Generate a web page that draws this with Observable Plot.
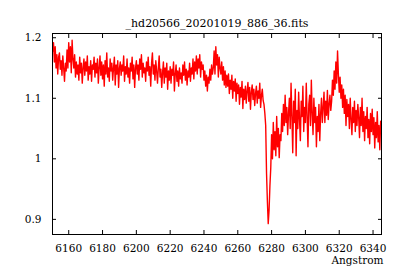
<!DOCTYPE html>
<html>
<head>
<meta charset="utf-8">
<script src="https://cdn.jsdelivr.net/npm/d3@7"></script>
<script src="https://cdn.jsdelivr.net/npm/@observablehq/plot@0.6"></script>
<style>
  html, body { margin: 0; padding: 0; background: #fff; }
  svg text { font-family: "DejaVu Serif", serif !important; }
</style>
</head>
<body>
<div id="chart"></div>
<script>
const title = "_hd20566_20201019_886_36.fits";
const xLabel = "Angstrom";
const wavelengthStart = 6150.5;
const wavelengthStep = 0.5;
const flux = [
  1.178,1.192,1.160,1.185,1.150,1.172,1.140,1.168,1.175,1.148,
  1.162,1.138,1.170,1.150,1.128,1.158,1.145,1.180,1.150,1.192,
  1.160,1.185,1.142,1.196,1.165,1.150,1.172,1.135,1.160,1.140,
  1.155,1.130,1.168,1.142,1.158,1.125,1.150,1.165,1.138,1.160,
  1.145,1.170,1.130,1.152,1.140,1.162,1.128,1.155,1.148,1.168,
  1.135,1.158,1.142,1.165,1.125,1.150,1.170,1.138,1.160,1.132,
  1.155,1.120,1.162,1.140,1.175,1.135,1.150,1.128,1.165,1.145,
  1.158,1.130,1.150,1.168,1.122,1.155,1.140,1.162,1.118,1.150,
  1.160,1.138,1.155,1.145,1.170,1.128,1.152,1.140,1.165,1.135,
  1.150,1.125,1.158,1.145,1.168,1.132,1.155,1.118,1.150,1.162,
  1.140,1.155,1.130,1.165,1.148,1.172,1.135,1.158,1.142,1.150,
  1.128,1.160,1.145,1.168,1.138,1.152,1.120,1.158,1.175,1.140,
  1.155,1.130,1.162,1.145,1.125,1.150,1.170,1.135,1.148,1.118,
  1.142,1.160,1.125,1.150,1.135,1.158,1.115,1.145,1.130,1.152,
  1.125,1.148,1.138,1.160,1.112,1.140,1.155,1.128,1.145,1.120,
  1.150,1.132,1.142,1.125,1.155,1.138,1.160,1.130,1.148,1.122,
  1.145,1.135,1.158,1.128,1.150,1.140,1.165,1.132,1.160,1.145,
  1.170,1.140,1.165,1.150,1.172,1.135,1.160,1.148,1.155,1.130,
  1.145,1.120,1.138,1.112,1.135,1.125,1.148,1.130,1.155,1.140,
  1.150,1.178,1.140,1.185,1.155,1.172,1.135,1.168,1.150,1.140,
  1.160,1.130,1.152,1.122,1.145,1.118,1.138,1.120,1.140,1.108,
  1.130,1.115,1.138,1.100,1.128,1.112,1.132,1.095,1.125,1.108,
  1.122,1.090,1.118,1.102,1.128,1.083,1.115,1.098,1.120,1.092,
  1.112,1.126,1.095,1.118,1.082,1.110,1.122,1.098,1.115,1.088,
  1.108,1.120,1.092,1.112,1.100,1.125,1.085,1.105,1.115,1.096,
  1.090,1.075,1.055,0.976,0.930,0.893,0.915,0.955,0.985,1.040,
  1.000,1.060,1.015,1.045,1.005,1.070,1.020,1.050,1.002,1.040,
  1.030,1.075,1.045,1.090,1.055,1.105,1.060,1.085,1.040,1.075,
  1.100,1.050,1.125,1.070,1.010,1.095,1.060,1.115,1.005,1.080,
  1.050,1.110,1.065,1.030,1.095,1.070,1.120,1.045,1.085,1.060,
  1.125,1.070,1.020,1.090,1.105,1.055,1.130,1.075,1.040,1.100,
  1.060,1.085,1.020,1.070,1.045,1.090,1.030,1.075,1.100,1.060,
  1.085,1.110,1.060,1.095,1.072,1.113,1.065,1.090,1.105,1.080,
  1.095,1.130,1.105,1.145,1.115,1.160,1.125,1.178,1.140,1.110,
  1.135,1.100,1.122,1.085,1.115,1.075,1.105,1.055,1.098,1.070,
  1.090,1.050,1.100,1.065,1.040,1.085,1.060,1.095,1.045,1.080,
  1.055,1.090,1.068,1.035,1.085,1.055,1.100,1.045,1.078,1.030,
  1.070,1.050,1.085,1.035,1.065,1.025,1.075,1.045,1.082,1.040,
  1.068,1.018,1.060,1.035,1.078,1.028,1.055,1.015,1.062
];
const xTicks = [6160, 6180, 6200, 6220, 6240, 6260, 6280, 6300, 6320, 6340];
const yTicks = [0.9, 1, 1.1, 1.2];

const data = flux.map((f, i) => ({lambda: wavelengthStart + i * wavelengthStep, flux: f}));

const fmt = d3.format("~g");
const font = "DejaVu Serif, serif";

const chart = Plot.plot({
  width: 400,
  height: 280,
  marginLeft: 52,
  marginRight: 19,
  marginTop: 33,
  marginBottom: 46,
  style: {fontFamily: font, fontSize: "10.5px", background: "#fff", color: "#000"},
  x: {domain: [6150.4, 6345], label: null},
  y: {domain: [0.875, 1.207], label: null},
  marks: [
    Plot.line(data, {x: "lambda", y: "flux", stroke: "#ff0000", strokeWidth: 1.4}),
    Plot.frame({stroke: "#000", strokeWidth: 1}),
    Plot.axisX(xTicks, {anchor: "bottom", tickSize: 4, dy: -4, text: null, stroke: "#000"}),
    Plot.axisX(xTicks, {anchor: "top", tickSize: 4, dy: 4, text: null, stroke: "#000"}),
    Plot.axisY(yTicks, {anchor: "left", tickSize: 4, dx: 4, text: null, stroke: "#000"}),
    Plot.axisY(yTicks, {anchor: "right", tickSize: 4, dx: -4, text: null, stroke: "#000"}),
    Plot.axisX(xTicks, {anchor: "bottom", tickSize: 0, tickPadding: 10, tickFormat: fmt, label: null, fill: "#000", fontSize: 10.5}),
    Plot.axisY(yTicks, {anchor: "left", tickSize: 0, tickPadding: 11, tickFormat: fmt, label: null, fill: "#000", fontSize: 10.5}),
    Plot.text([title], {frameAnchor: "top", dy: -14, text: d => d, fill: "#000", fontSize: 11}),
    Plot.text([xLabel], {frameAnchor: "bottom-right", dy: 29, dx: 2, textAnchor: "end", text: d => d, fill: "#000", fontSize: 10.5})
  ]
});
document.getElementById("chart").appendChild(chart);
</script>
</body>
</html>
